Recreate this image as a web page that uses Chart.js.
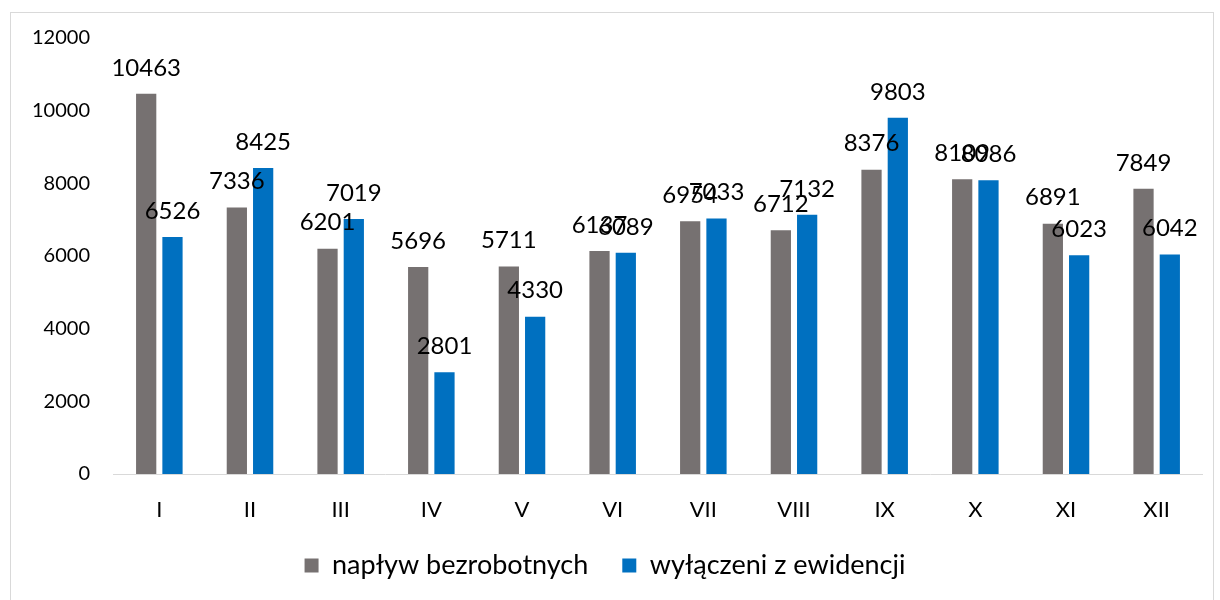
<html>
<head>
  <script src="https://cdn.jsdelivr.net/npm/chart.js@4/dist/chart.umd.min.js"></script>
  <style>
    html, body { margin: 0; width: 100%; height: 100%; background: #fff; overflow: hidden; }
    .frame { position: absolute; left: 10px; top: 12px; width: 1204px; height: 600px; border: 1px solid #d9d9d9; box-sizing: border-box; }
    .graph { position: absolute; left: 0; top: 0; width: 1220px; height: 600px; }
  </style>
</head>
<body>
  <div class="frame"></div>
  <div class="graph"><canvas id="graph-canvas" width="1220" height="600"></canvas></div>
  <script>
    const months = ['I', 'II', 'III', 'IV', 'V', 'VI', 'VII', 'VIII', 'IX', 'X', 'XI', 'XII'];
    const naplyw = [10463, 7336, 6201, 5696, 5711, 6137, 6954, 6712, 8376, 8109, 6891, 7849];
    const wylaczeni = [6526, 8425, 7019, 2801, 4330, 6089, 7033, 7132, 9803, 8086, 6023, 6042];

    const fontFam = 'Lato, "Open Sans", sans-serif';

    const barLabels = {
      id: 'barLabels',
      afterDatasetsDraw(chart) {
        const ctx = chart.ctx;
        ctx.save();
        ctx.font = '24px ' + fontFam;
        ctx.fillStyle = '#000';
        ctx.textAlign = 'center';
        ctx.textBaseline = 'middle';
        chart.data.datasets.forEach((ds, i) => {
          chart.getDatasetMeta(i).data.forEach((bar, j) => {
            ctx.fillText(ds.data[j], bar.x, bar.y - 26);
          });
        });
        ctx.restore();
      }
    };

    const ctx = document.getElementById('graph-canvas');
    new Chart(ctx, {
      type: 'bar',
      data: {
        labels: months,
        datasets: [
          { label: 'napływ bezrobotnych', data: naplyw, backgroundColor: '#767171' },
          { label: 'wyłączeni z ewidencji', data: wylaczeni, backgroundColor: '#0070C0' }
        ]
      },
      options: {
        responsive: false,
        animation: false,
        devicePixelRatio: 1,
        layout: { padding: { left: 8, right: 18, top: 38, bottom: 11 } },
        datasets: { bar: { categoryPercentage: 0.58, barPercentage: 0.77 } },
        scales: {
          x: {
            grid: { display: false, drawTicks: false },
            border: { color: '#d9d9d9', width: 1 },
            ticks: { color: '#000', padding: 23, font: { family: fontFam, size: 22 } },
            afterFit: (scale) => { scale.height = 44; }
          },
          y: {
            min: 0, max: 12000,
            grid: { display: false, drawTicks: false },
            border: { display: false },
            ticks: {
              stepSize: 2000, color: '#000', padding: 24,
              font: { family: fontFam, size: 20 },
              callback: (v) => String(v)
            }
          }
        },
        plugins: {
          legend: {
            position: 'bottom',
            labels: { color: '#000', boxWidth: 14, boxHeight: 14, padding: 34, font: { family: fontFam, size: 27, lineHeight: 1 } }
          },
          tooltip: { enabled: false }
        }
      },
      plugins: [barLabels]
    });
  </script>
</body>
</html>
